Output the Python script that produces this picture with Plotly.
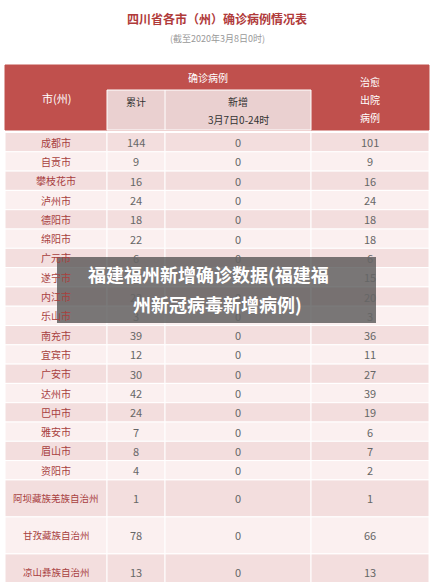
import plotly.graph_objects as go

cities = ["成都市","自贡市","攀枝花市","泸州市","德阳市","绵阳市","广元市","遂宁市","内江市","乐山市",
          "南充市","宜宾市","广安市","达州市","巴中市","雅安市","眉山市","资阳市",
          "阿坝藏族羌族自治州","甘孜藏族自治州","凉山彝族自治州"]
total = [144,9,16,24,18,22,6,17,22,3,39,12,30,42,24,7,8,4,1,78,13]
new = [0]*21
cured = [101,9,16,24,18,18,6,15,20,3,36,11,27,39,19,6,7,2,1,66,13]

W, H = 433, 582
fig = go.Figure()
fig.update_layout(width=W, height=H, margin=dict(l=0, r=0, t=0, b=0),
                  paper_bgcolor="white", plot_bgcolor="white",
                  xaxis=dict(range=[0, W], visible=False, fixedrange=True),
                  yaxis=dict(range=[H, 0], visible=False, fixedrange=True),
                  showlegend=False)
shapes, ann = [], []
def rect(x0, y0, x1, y1, c, lc="white"):
    shapes.append(dict(type="rect", x0=x0, y0=y0, x1=x1, y1=y1, fillcolor=c,
                       line=dict(color=lc, width=1), layer="below"))
def txt(x, y, t, c, s=11, b=False):
    ann.append(dict(x=x, y=y, text=f"<b>{t}</b>" if b else t, showarrow=False,
                    font=dict(color=c, size=s, family="Noto Sans CJK SC")))

cols = [5, 107, 165, 311, 429]
red = "#c0504d"
txt(217, 18, "四川省各市（州）确诊病例情况表", "#b03a3a", 12, True)
txt(217, 38, "(截至2020年3月8日0时)", "#999999", 9)
rect(5, 65, 429, 130, red, red)
rect(107, 90, 311, 130, "#ead0d0", "white")
shapes.append(dict(type="line", x0=165, x1=165, y0=90, y1=130, line=dict(color="white", width=1)))
txt(56, 98, "市(州)", "white", 11)
txt(208, 77, "确诊病例", "white", 10)
txt(136, 101, "累计", "#333333", 10)
txt(238, 101, "新增", "#333333", 10)
txt(238, 119, "3月7日0-24时", "#333333", 10)
txt(370, 81, "治愈", "white", 10)
txt(370, 99, "出院", "white", 10)
txt(370, 117, "病例", "white", 10)

y = 132.5
for i, (c, t, n, cu) in enumerate(zip(cities, total, new, cured)):
    h = 19.3 if i < 18 else 37
    col = "#f3dede" if i % 2 == 0 else "#fbf0f0"
    for k in range(4):
        rect(cols[k], y, cols[k+1], y + h, col, "#ffffff")
    cy = y + h / 2
    txt(56, cy, c, "#a8403e", 10 if len(c) < 6 else 9.5)
    txt(136, cy, str(t), "#666666", 11)
    txt(238, cy, str(n), "#666666", 11)
    txt(370, cy, str(cu), "#666666", 11)
    y += h

shapes.append(dict(type="rect", x0=57, x1=376, y0=257, y1=323, fillcolor="rgba(70,70,70,0.72)",
                   line=dict(width=0), layer="above"))
txt(208, 274, "福建福州新增确诊数据(福建福", "white", 18, True)
txt(217, 304, "州新冠病毒新增病例)", "white", 18, True)

fig.update_layout(shapes=shapes, annotations=ann)
fig.write_html("out.html", config={"displayModeBar": False},
               post_script="document.body.style.margin='0';document.body.style.overflow='hidden';")
